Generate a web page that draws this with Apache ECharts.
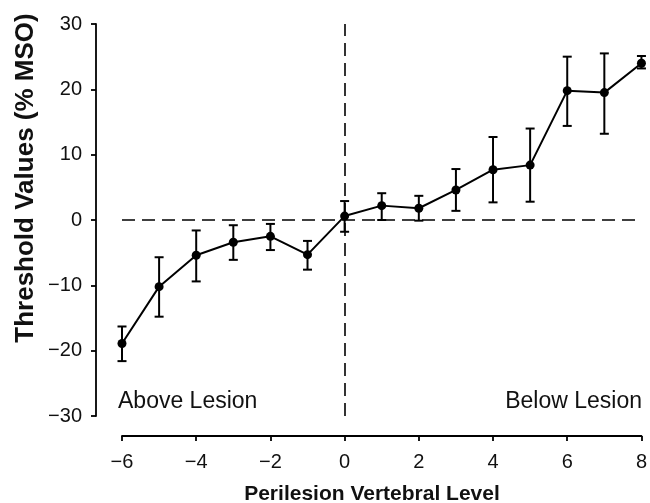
<!DOCTYPE html>
<html><head><meta charset="utf-8">
<script src="https://cdn.jsdelivr.net/npm/echarts@6/dist/echarts.min.js"></script>
<style>html,body{margin:0;padding:0;background:#fff}#c{width:650px;height:503px}</style>
</head><body><div id="c"></div>
<script>
const levels = [-6,-5,-4,-3,-2,-1,0,1,2,3,4,5,6,7,8];
const means  = [-18.9,-10.2,-5.4,-3.4,-2.5,-5.3,0.6,2.2,1.8,4.6,7.7,8.4,19.8,19.5,24.0];
const upper  = [-16.3,-5.7,-1.6,-0.8,-0.6,-3.2,2.9,4.1,3.7,7.8,12.7,14.0,25.0,25.5,25.1];
const lower  = [-21.6,-14.8,-9.4,-6.1,-4.6,-7.6,-1.8,0.0,-0.1,1.4,2.7,2.8,14.4,13.2,23.2];
const yTicks = {min:-30, max:30, step:10};
const xTicks = {min:-6, max:8, step:2};
const regionLabels = ['Above Lesion', 'Below Lesion'];
const xTitle = 'Perilesion Vertebral Level';
const yTitle = 'Threshold Values (% MSO)';

const chart = echarts.init(document.getElementById('c'));
const fmt = v => String(v).replace('-', '\u2212');
const font = 'Liberation Sans, Arial, sans-serif';
chart.setOption({
  animation:false,
  grid:{left:122, right:5, top:24, bottom:87},
  xAxis:{type:'value', min:xTicks.min, max:xTicks.max, interval:xTicks.step, offset:20,
    axisLine:{onZero:false, lineStyle:{color:'#000', width:1.8}},
    axisTick:{length:5, lineStyle:{color:'#000', width:1.8}},
    splitLine:{show:false},
    axisLabel:{formatter:fmt, color:'#111', fontSize:20, fontFamily:font, margin:16}},
  yAxis:{type:'value', min:yTicks.min, max:yTicks.max, interval:yTicks.step, offset:26,
    axisLine:{show:true, onZero:false, lineStyle:{color:'#000', width:1.8}},
    axisTick:{show:true, length:5, lineStyle:{color:'#000', width:1.8}},
    splitLine:{show:false},
    axisLabel:{formatter:fmt, color:'#111', fontSize:20, fontFamily:font, margin:14}},
  graphic:[
    {type:'text', x:118, y:402, style:{text:regionLabels[0], fontSize:23, fontFamily:font, fill:'#111', align:'left', verticalAlign:'middle'}},
    {type:'text', x:642, y:402, style:{text:regionLabels[1], fontSize:23, fontFamily:font, fill:'#111', align:'right', verticalAlign:'middle'}},
    {type:'text', x:372, y:494, style:{text:xTitle, fontSize:21, fontWeight:'bold', fontFamily:font, fill:'#111', align:'center', verticalAlign:'middle'}},
    {type:'text', x:26, y:178, rotation:Math.PI/2, style:{text:yTitle, fontSize:26, fontWeight:'bold', fontFamily:font, fill:'#111', align:'center', verticalAlign:'middle'}}
  ],
  series:[
    {type:'line', data:levels.map((x,i)=>[x,means[i]]), symbol:'circle', symbolSize:9,
     itemStyle:{color:'#000'}, lineStyle:{color:'#000', width:2}, z:3, clip:false,
     markLine:{silent:true, symbol:'none', label:{show:false},
       lineStyle:{color:'#000', type:[13,7], width:1.6},
       data:[{yAxis:0},{xAxis:0}]}},
    {type:'custom', z:2, clip:false, data:levels.map((x,i)=>[x,lower[i],upper[i]]),
     renderItem:(params, api)=>{
       const lo = api.coord([api.value(0), api.value(1)]);
       const hi = api.coord([api.value(0), api.value(2)]);
       const w = 4.5;
       const st = {stroke:'#000', lineWidth:2};
       return {type:'group', children:[
         {type:'line', shape:{x1:lo[0], y1:lo[1], x2:hi[0], y2:hi[1]}, style:st},
         {type:'line', shape:{x1:lo[0]-w, y1:lo[1], x2:lo[0]+w, y2:lo[1]}, style:st},
         {type:'line', shape:{x1:hi[0]-w, y1:hi[1], x2:hi[0]+w, y2:hi[1]}, style:st}
       ]};
     }}
  ]
});
</script></body></html>
